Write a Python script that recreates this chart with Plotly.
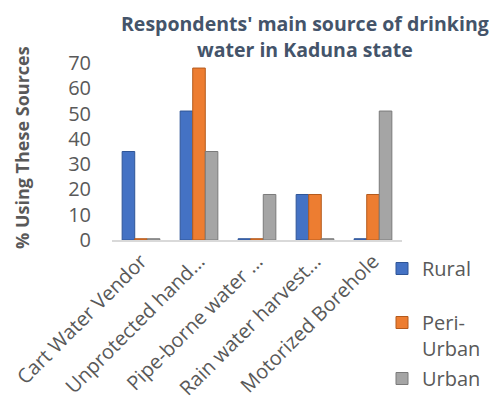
import plotly.graph_objects as go

categories = ["Cart Water Vendor", "Unprotected hand...", "Pipe-borne water ...",
              "Rain water harvest...", "Motorized Borehole"]
rural = [35, 51, 0.5, 18, 0.5]
peri_urban = [0.5, 68, 0.5, 18, 18]
urban = [0.5, 35, 18, 0.5, 51]
series_names = ["Rural", "Peri-<br>Urban", "Urban"]
y_ticks = [0, 10, 20, 30, 40, 50, 60, 70]

colors = ["#4472C4", "#ED7D31", "#A5A5A5"]
edges = ["#2F5597", "#B45A1C", "#7B7B7B"]
W, H = 490, 403
L, R, T, B = 112, 88, 63, 163
pw = W - L - R
ph = H - T - B


def px_x(x):
    return (x - L) / pw


def px_y(y):
    return (H - B - y) / ph


fig = go.Figure()
for i, (vals, name) in enumerate(zip([rural, peri_urban, urban], series_names)):
    fig.add_trace(go.Bar(
        x=categories, y=vals, name=name, showlegend=True,
        marker=dict(color=colors[i], line=dict(color=edges[i], width=1)),
        legend="legend" if i == 0 else f"legend{i+1}",
    ))

font_family = "Open Sans, Noto Sans, sans-serif"
leg_common = dict(font=dict(size=20, color="#595959", family=font_family),
                  bgcolor="rgba(0,0,0,0)", xanchor="left", yanchor="top",
                  valign="top", itemwidth=30)

fig.update_layout(
    width=W, height=H,
    margin=dict(l=L, r=R, t=T, b=B, autoexpand=False),
    paper_bgcolor="white", plot_bgcolor="white",
    showlegend=True,
    barmode="group", bargap=0.35, bargroupgap=0.0,
    font=dict(family=font_family, color="#595959"),
    xaxis=dict(tickangle=-45, tickfont=dict(size=20, color="#595959"),
               showline=True, linecolor="#D9D9D9", linewidth=1.5, ticks="",
               showgrid=False, automargin=False),
    yaxis=dict(range=[0, 70], tickvals=y_ticks, showgrid=False, zeroline=False,
               showline=False, tickfont=dict(size=20, color="#595959"), ticks="",
               ticklabelstandoff=20, automargin=False),
    legend=dict(x=px_x(382), y=px_y(249), **leg_common),
    legend2=dict(x=px_x(382), y=px_y(303), **leg_common),
    legend3=dict(x=px_x(382), y=px_y(359), **leg_common),
    annotations=[
        dict(text="<b>% Using These Sources</b>", textangle=-90,
             xref="paper", yref="paper", x=px_x(22), y=px_y(148),
             xanchor="center", yanchor="middle", showarrow=False,
             font=dict(size=18, color="#595959", family=font_family)),
        dict(text="<b>Respondents' main source of drinking</b>",
             xref="paper", yref="paper", x=px_x(305), y=px_y(23),
             xanchor="center", yanchor="middle", showarrow=False,
             font=dict(size=19.5, color="#44546A", family=font_family)),
        dict(text="<b>water in Kaduna state</b>",
             xref="paper", yref="paper", x=px_x(305), y=px_y(50),
             xanchor="center", yanchor="middle", showarrow=False,
             font=dict(size=19.5, color="#44546A", family=font_family)),
    ],
)

fig.write_html("out.html")
